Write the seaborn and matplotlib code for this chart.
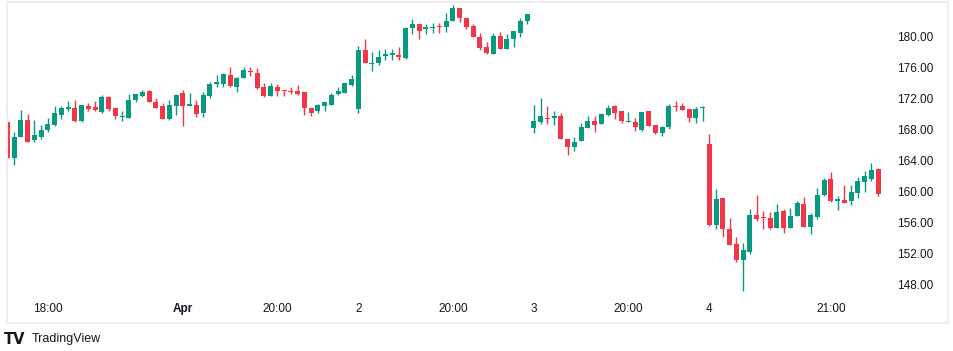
import numpy as np
import pandas as pd
import matplotlib
matplotlib.use("Agg")
import matplotlib.pyplot as plt
import matplotlib.patches as mpatches
import seaborn as sns

# 15-minute bars, Mar 31 - Apr 4 (26 bars per session)
opens = [169.0, 164.3, 167.0, 169.2, 166.6, 167.1, 167.9, 168.6, 169.9, 170.7,
         170.85, 169.15, 171.05, 170.95, 170.25, 172.25, 170.85, 169.6, 169.55, 171.85,
         172.35, 173.05, 171.6, 171.1, 169.35, 171.0,
         172.8, 171.0, 171.2, 170.2, 172.3, 173.9, 173.9, 175.1, 173.55, 174.75,
         175.6, 175.3, 173.5, 172.35, 173.5, 173.15, 173.05, 173.05, 172.9, 170.75,
         170.35, 171.05, 171.2, 172.6, 172.8, 173.8,
         170.65, 178.3, 176.45, 176.65, 177.6, 177.65, 177.65, 177.25, 181.1, 181.7,
         181.0, 181.2, 181.4, 181.35, 182.1, 183.7, 182.4, 181.4, 179.95, 178.65,
         177.75, 180.15, 178.5, 179.7, 180.5, 182.1,
         168.25, 168.95, 169.55, 169.45, 169.7, 166.85, 165.7, 166.55, 168.25, 169.1,
         168.7, 169.9, 171.0, 170.45, 169.05, 169.05, 167.95, 170.35, 168.6, 167.6,
         168.4, 171.1, 171.0, 170.65, 169.45, 170.75,
         166.15, 155.65, 159.1, 155.15, 153.2, 151.05, 152.2, 156.95, 156.65, 156.6,
         155.2, 157.5, 155.2, 156.8, 158.35, 155.45, 156.7, 159.55, 161.6, 158.8,
         158.9, 158.75, 159.85, 161.25, 161.6, 162.9]
highs = [169.1, 167.7, 170.5, 170.0, 169.25, 168.6, 169.5, 171.05, 171.05, 171.7,
         171.85, 171.2, 171.4, 171.7, 172.5, 172.3, 170.85, 170.45, 172.55, 172.6,
         173.1, 173.1, 172.05, 171.4, 171.85, 172.6,
         173.1, 172.8, 171.85, 172.9, 174.2, 175.1, 175.3, 176.15, 174.85, 176.15,
         176.05, 175.95, 174.0, 174.1, 173.9, 173.15, 173.55, 173.8, 172.9, 170.75,
         171.3, 171.6, 172.7, 173.55, 174.1, 175.05,
         178.85, 179.7, 178.1, 178.25, 178.4, 178.4, 178.75, 181.25, 182.3, 181.7,
         181.7, 181.75, 181.75, 183.15, 184.15, 183.7, 182.4, 181.65, 180.55, 179.4,
         180.55, 180.6, 180.35, 180.8, 182.4, 183.0,
         171.2, 172.05, 171.05, 170.35, 170.1, 166.85, 167.1, 168.8, 169.7, 169.7,
         170.2, 171.2, 171.2, 170.45, 170.25, 169.45, 170.25, 170.45, 168.6, 168.45,
         171.3, 171.7, 171.5, 170.65, 170.9, 171.05,
         167.45, 160.3, 159.1, 156.5, 154.15, 153.35, 157.7, 159.55, 157.5, 157.35,
         158.35, 157.7, 157.9, 158.8, 159.25, 157.15, 160.4, 161.7, 162.45, 159.4,
         160.85, 160.85, 161.8, 162.7, 163.7, 163.0]
lows = [164.3, 163.4, 167.0, 166.4, 166.4, 166.75, 167.7, 168.45, 169.35, 170.45,
        168.95, 168.95, 170.35, 170.35, 170.1, 170.4, 169.4, 169.15, 169.55, 171.6,
        172.25, 171.6, 170.75, 169.35, 169.25, 169.9,
        168.5, 171.0, 169.6, 169.6, 172.05, 173.55, 173.5, 173.55, 172.85, 174.65,
        174.95, 173.2, 172.25, 172.3, 172.35, 172.4, 172.6, 172.5, 169.9, 169.7,
        170.2, 170.45, 171.2, 172.5, 172.7, 173.65,
        170.1, 176.6, 175.65, 176.35, 177.0, 177.0, 177.0, 177.1, 180.4, 179.7,
        180.45, 180.55, 180.55, 180.7, 182.1, 182.0, 181.0, 179.95, 178.3, 177.8,
        177.75, 178.5, 178.5, 178.75, 179.95, 181.7,
        167.6, 168.75, 168.75, 168.6, 166.75, 164.7, 165.25, 166.55, 168.15, 167.75,
        168.7, 169.75, 169.35, 168.8, 169.05, 167.85, 167.85, 168.5, 167.4, 167.2,
        168.05, 170.35, 170.55, 169.05, 168.8, 169.15,
        155.5, 155.15, 154.15, 153.05, 150.9, 147.15, 151.9, 156.2, 155.15, 155.15,
        155.2, 154.65, 155.2, 156.8, 155.35, 154.5, 156.4, 159.4, 158.6, 157.6,
        158.55, 158.25, 159.1, 159.95, 161.4, 159.4]
closes = [164.3, 167.0, 169.3, 166.4, 167.3, 168.0, 168.7, 170.1, 170.75, 170.9,
          169.15, 171.2, 170.65, 170.55, 172.25, 170.65, 169.7, 169.8, 171.85, 172.6,
          172.9, 171.6, 170.75, 169.35, 171.2, 172.5,
          171.1, 171.3, 170.0, 172.5, 173.9, 174.2, 175.2, 173.7, 174.75, 175.7,
          175.4, 173.35, 172.35, 173.65, 173.05, 172.95, 172.9, 172.6, 170.75, 170.2,
          171.2, 171.6, 172.5, 173.05, 174.0, 174.55,
          178.3, 176.6, 176.65, 177.35, 177.8, 177.9, 177.45, 181.1, 181.7, 180.8,
          181.35, 181.35, 181.25, 182.1, 183.7, 182.4, 181.35, 180.05, 178.6, 177.9,
          180.15, 178.5, 179.7, 180.75, 182.1, 183.0,
          169.1, 169.7, 169.4, 169.7, 166.85, 165.7, 166.45, 168.3, 169.1, 168.6,
          170.0, 170.75, 170.2, 169.15, 169.1, 168.3, 170.25, 168.5, 167.5, 168.3,
          171.1, 170.9, 170.55, 169.45, 170.65, 170.8,
          155.65, 159.0, 155.1, 153.05, 151.05, 152.4, 156.95, 156.45, 156.6, 155.2,
          157.3, 155.2, 156.8, 158.45, 155.35, 156.95, 159.55, 161.5, 158.8, 159.0,
          158.55, 159.95, 161.4, 162.0, 162.75, 159.65]

tick_pos = [6, 26, 40, 52, 66, 78, 92, 104, 122]
tick_labels = ["18:00", "Apr", "20:00", "2", "20:00", "3", "20:00", "4", "21:00"]
price_ticks = [148, 152, 156, 160, 164, 168, 172, 176, 180]

UP = "#089981"
DOWN = "#f23645"
TXT = "#131722"

df = pd.DataFrame({"open": opens, "high": highs, "low": lows, "close": closes})
df["bar"] = np.arange(len(df))
df["up"] = df["close"] >= df["open"]

sns.set_theme(style="white")
plt.rcParams["font.family"] = ["Liberation Sans", "DejaVu Sans"]

W, H = 954, 351
fig = plt.figure(figsize=(W / 100, H / 100), dpi=100)
fig.patch.set_facecolor("white")

# chart pane
ax = fig.add_axes([7 / W, (H - 296) / H, (886 - 7) / W, (296 - 2) / H])
ax.set_facecolor("white")

colors = np.where(df["up"], UP, DOWN)
ax.vlines(df["bar"], df["low"], df["high"], colors=colors, linewidth=1.0, zorder=2)
body_bottom = np.minimum(df["open"], df["close"])
body_h = np.maximum((df["close"] - df["open"]).abs(), 0.13)
ax.bar(df["bar"], body_h, bottom=body_bottom, width=0.74, color=colors,
       linewidth=0, zorder=3)

ax.set_xlim(-0.044, 130.18)
ax.set_ylim(146.45, 184.53)

for s in ax.spines.values():
    s.set_visible(False)

ax.yaxis.tick_right()
ax.set_yticks(price_ticks)
ax.set_yticklabels([f"{p:.2f}" for p in price_ticks])
ax.tick_params(axis="y", length=0, pad=8, labelsize=8.5, labelcolor=TXT)

ax.set_xticks(tick_pos)
ax.set_xticklabels(tick_labels)
ax.tick_params(axis="x", length=0, pad=5, labelsize=8.5, labelcolor=TXT)
for lbl in ax.get_xticklabels():
    if lbl.get_text() == "Apr":
        lbl.set_fontweight("bold")
ax.grid(False)

# outer frame
frame = mpatches.Rectangle((7 / W, (H - 322.5) / H), (948 - 7) / W, (322.5 - 1.5) / H,
                           transform=fig.transFigure, fill=False,
                           edgecolor="#eeeeee", linewidth=1.5, zorder=0)
fig.patches.append(frame)

# branding
fig.text(4 / W, (H - 339) / H, "TV", fontsize=10.5, fontweight="heavy",
         color=TXT, va="center", ha="left", family="DejaVu Sans")
fig.text(32 / W, (H - 339) / H, "TradingView", fontsize=9,
         color=TXT, va="center", ha="left")

fig.savefig("out.png", dpi=100, facecolor="white")
